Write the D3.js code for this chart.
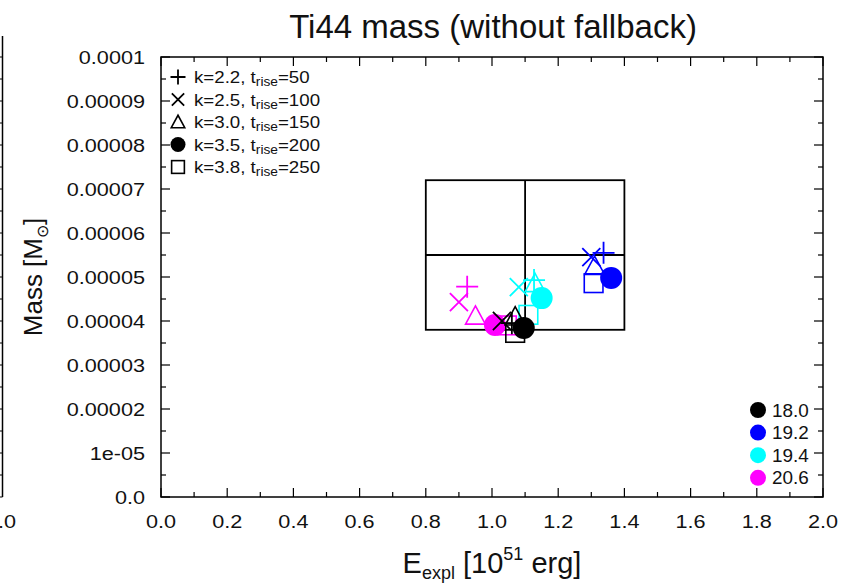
<!DOCTYPE html>
<html><head><meta charset="utf-8">
<script src="https://cdn.jsdelivr.net/npm/d3@7"></script>
<style>body{margin:0;background:#fff}svg{display:block}text{font-family:"Liberation Sans",Arial,sans-serif;fill:#111}</style>
</head><body>
<svg id="c" width="846" height="583"></svg>
<script>
// ---- data ----
const masses = ["18.0","19.2","19.4","20.6"];
const massColors = ["#000000","#0000ff","#00ffff","#ff00ff"];
const models = [
  {k:"2.2", t:"50", sym:"plus"},
  {k:"2.5", t:"100", sym:"cross"},
  {k:"3.0", t:"150", sym:"triangle"},
  {k:"3.5", t:"200", sym:"circle"},
  {k:"3.8", t:"250", sym:"square"}
];
// energies [1e51 erg] and Ti44 masses [Msun] per progenitor mass, in model order
const energy20_6 = [0.925, 0.90, 0.95, 1.009, 1.045];
const mass20_6   = [4.78e-5, 4.43e-5, 4.12e-5, 3.91e-5, 3.90e-5];
const energy19_4 = [1.127, 1.081, 1.13, 1.15, 1.11];
const mass19_4   = [4.93e-5, 4.77e-5, 4.86e-5, 4.52e-5, 4.14e-5];
const energy19_2 = [1.337, 1.30, 1.31, 1.36, 1.307];
const mass19_2   = [5.55e-5, 5.45e-5, 5.25e-5, 4.98e-5, 4.86e-5];
const energy18_0 = [1.06, 1.03, 1.07, 1.096, 1.07];
const mass18_0   = [3.95e-5, 4.00e-5, 4.10e-5, 3.84e-5, 3.73e-5];
// observational box
const obsE = [0.8, 1.1, 1.4];
const obsM = [3.8e-5, 5.5e-5, 7.2e-5];
const xTicks = [0,0.2,0.4,0.6,0.8,1.0,1.2,1.4,1.6,1.8,2.0];
const yTicks = [0,1e-5,2e-5,3e-5,4e-5,5e-5,6e-5,7e-5,8e-5,9e-5,1e-4];
const yTickLabels = ["0.0","1e-05","0.00002","0.00003","0.00004","0.00005","0.00006","0.00007","0.00008","0.00009","0.0001"];

const series = [
  {m:"20.6", E:energy20_6, M:mass20_6},
  {m:"19.4", E:energy19_4, M:mass19_4},
  {m:"19.2", E:energy19_2, M:mass19_2},
  {m:"18.0", E:energy18_0, M:mass18_0}
];
const color = d3.scaleOrdinal(masses, massColors);

const svg = d3.select("#c");
const L=161, R=823, T=57, B=497;
const x = d3.scaleLinear([0,2],[L,R]);
const y = d3.scaleLinear([0,1e-4],[B,T]);

function txt(g, px, py, str, size, anchor, sx){
  return g.append("text").attr("transform",`translate(${px},${py}) scale(${sx||1},1)`)
    .attr("text-anchor",anchor||"start").attr("font-size",size).text(str);
}

// partial neighbour panel spine at left
svg.append("line").attr("x1",2.5).attr("x2",2.5).attr("y1",36).attr("y2",B).attr("stroke","#000").attr("stroke-width",1.5);
d3.range(0,1.0001e-4,5e-6).forEach((v,i)=>{
  svg.append("line").attr("x1",2.5).attr("x2",0).attr("y1",y(v)).attr("y2",y(v)).attr("stroke","#000");
});
txt(svg, 16, 528, "2.0", 19, "end", 1.14);

// frame
svg.append("rect").attr("x",L).attr("y",T).attr("width",R-L).attr("height",B-T)
  .attr("fill","none").attr("stroke","#000").attr("stroke-width",1.5);

// ticks
const gx = svg.append("g").attr("stroke","#000").attr("stroke-width",1.2);
d3.range(0,2.0001,0.1).forEach((v,i)=>{
  const len = i%2?5:9;
  gx.append("line").attr("x1",x(v)).attr("x2",x(v)).attr("y1",B).attr("y2",B-len);
  gx.append("line").attr("x1",x(v)).attr("x2",x(v)).attr("y1",T).attr("y2",T+len);
});
d3.range(0,1.0001e-4,5e-6).forEach((v,i)=>{
  const len = i%2?5:9;
  gx.append("line").attr("x1",L).attr("x2",L+len).attr("y1",y(v)).attr("y2",y(v));
  gx.append("line").attr("x1",R).attr("x2",R-len).attr("y1",y(v)).attr("y2",y(v));
});
xTicks.forEach(v=>{ txt(svg, x(v), 528, d3.format(".1f")(v), 19, "middle", 1.14); });
yTicks.forEach((v,i)=>{ txt(svg, 145, y(v)+7, yTickLabels[i], 19, "end", 1.14); });

// titles
txt(svg, 493, 38, "Ti44 mass (without fallback)", 33, "middle", 1);
const xl = svg.append("text").attr("x",492).attr("y",573).attr("text-anchor","middle").attr("font-size",29);
xl.append("tspan").text("E");
xl.append("tspan").attr("font-size",18).attr("dy",6).text("expl");
xl.append("tspan").attr("dy",-6).text(" [10");
xl.append("tspan").attr("font-size",18).attr("dy",-13).text("51");
xl.append("tspan").attr("dy",13).text(" erg]");
const yl = svg.append("text").attr("transform","translate(42,277) rotate(-90)").attr("text-anchor","middle").attr("font-size",26);
yl.append("tspan").text("Mass [M");
yl.append("tspan").attr("font-size",16).attr("dy",6).text("\u2299");
yl.append("tspan").attr("dy",-6).text("]");

// observation box
const box = svg.append("g").attr("stroke","#000").attr("stroke-width",1.8).attr("fill","none");
box.append("rect").attr("x",x(obsE[0])).attr("y",y(obsM[2])).attr("width",x(obsE[2])-x(obsE[0])).attr("height",y(obsM[0])-y(obsM[2]));
box.append("line").attr("x1",x(obsE[1])).attr("x2",x(obsE[1])).attr("y1",y(obsM[2])).attr("y2",y(obsM[0]));
box.append("line").attr("x1",x(obsE[0])).attr("x2",x(obsE[2])).attr("y1",y(obsM[1])).attr("y2",y(obsM[1]));

function marker(g, sym, cx, cy, s, col){
  const h=s/2;
  if(sym==="plus"){
    g.append("path").attr("d",`M${cx-h},${cy}H${cx+h}M${cx},${cy-h}V${cy+h}`).attr("stroke",col).attr("stroke-width",1.8).attr("fill","none");
  } else if(sym==="cross"){
    const k=h*0.82;
    g.append("path").attr("d",`M${cx-k},${cy-k}L${cx+k},${cy+k}M${cx-k},${cy+k}L${cx+k},${cy-k}`).attr("stroke",col).attr("stroke-width",1.8).attr("fill","none");
  } else if(sym==="triangle"){
    const k=h*0.9;
    g.append("path").attr("d",`M${cx},${cy-k}L${cx+k},${cy+k*0.85}L${cx-k},${cy+k*0.85}Z`).attr("stroke",col).attr("stroke-width",1.6).attr("fill","none");
  } else if(sym==="circle"){
    g.append("circle").attr("cx",cx).attr("cy",cy).attr("r",h).attr("fill",col);
  } else if(sym==="square"){
    const k=h*0.85;
    g.append("rect").attr("x",cx-k).attr("y",cy-k).attr("width",2*k).attr("height",2*k).attr("stroke",col).attr("stroke-width",1.6).attr("fill","none");
  }
}

// data
const gd = svg.append("g");
series.forEach(s=>{
  models.forEach((m,i)=>{
    marker(gd, m.sym, x(s.E[i]), y(s.M[i]), 22, color(s.m));
  });
});

// legend of models
const gl = svg.append("g");
models.forEach((m,i)=>{
  const cy = 77 + i*22.5;
  marker(gl, m.sym, 178, cy, 15, "#000");
  const t = gl.append("text").attr("transform",`translate(194,${cy+6}) scale(1.1,1)`).attr("font-size",17);
  t.append("tspan").text(`k=${m.k}, t`);
  t.append("tspan").attr("font-size",12.5).attr("dy",3).text("rise");
  t.append("tspan").attr("dy",-3).text(`=${m.t}`);
});
// legend of masses
masses.forEach((m,i)=>{
  const cy = 410 + i*22.6;
  svg.append("circle").attr("cx",758).attr("cy",cy).attr("r",8).attr("fill",color(m));
  txt(svg, 772, cy+6.5, m, 18, "start", 1.05);
});
</script>
</body></html>
